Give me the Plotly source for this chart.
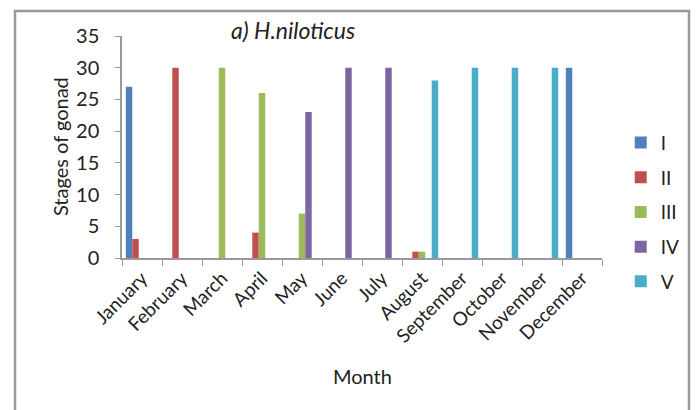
import plotly.graph_objects as go

months = ["January", "February", "March", "April", "May", "June", "July",
          "August", "September", "October", "November", "December"]
stage_I = [27, 0, 0, 0, 0, 0, 0, 0, 0, 0, 0, 30]
stage_II = [3, 30, 0, 4, 0, 0, 0, 1, 0, 0, 0, 0]
stage_III = [0, 0, 30, 26, 7, 0, 0, 1, 0, 0, 0, 0]
stage_IV = [0, 0, 0, 0, 23, 30, 30, 0, 0, 0, 0, 0]
stage_V = [0, 0, 0, 0, 0, 0, 0, 28, 30, 30, 30, 0]
series_names = ["I", "II", "III", "IV", "V"]
colors = ["#4F81BD", "#C0504D", "#9BBB59", "#8064A2", "#4BACC6"]

FONT = "Lato"
fig = go.Figure()
for i, (name, vals) in enumerate(zip(series_names, [stage_I, stage_II, stage_III, stage_IV, stage_V])):
    fig.add_trace(go.Bar(x=months, y=vals, name=name, marker_color=colors[i],
                         marker_line_width=0, legendgroup=name))

fig.update_layout(
    width=697, height=410,
    margin=dict(l=122, r=95, t=36, b=152, autoexpand=False),
    barmode="group", bargap=0.19, bargroupgap=0,
    plot_bgcolor="white", paper_bgcolor="white",
    font=dict(family=FONT, size=18, color="#222"),
    showlegend=True,
    legend=dict(x=1.039, y=0.605, xanchor="left", yanchor="top",
                font=dict(size=19, color="#222"), tracegroupgap=7,
                itemwidth=30),
    xaxis=dict(showline=True, linecolor="#999", linewidth=1.5, ticks="outside",
               tickson="boundaries", ticklen=6, tickcolor="#999", tickangle=-45,
               tickfont=dict(size=19), showgrid=False, automargin=False),
    yaxis=dict(range=[0, 35], dtick=5, showline=True, linecolor="#999", linewidth=1.5,
               ticks="outside", ticklen=5, tickcolor="#999", showgrid=False,
               zeroline=False, tickfont=dict(size=20), ticklabelstandoff=12,
               automargin=False),
)

fig.add_annotation(text="<i>a) H.niloticus</i>", xref="paper", yref="paper", x=0.356, y=1.027,
                   showarrow=False, font=dict(size=23, color="#222"), xanchor="center",
                   yanchor="middle")
fig.add_annotation(text="Stages of gonad", xref="paper", yref="paper", x=-0.129, y=0.5,
                   textangle=-90, showarrow=False, font=dict(size=20, color="#222"),
                   xanchor="center", yanchor="middle")
fig.add_annotation(text="Month", xref="paper", yref="paper", x=0.5, y=-0.53,
                   showarrow=False, font=dict(size=20, color="#222"),
                   xanchor="center", yanchor="middle")
fig.add_shape(type="rect", xref="paper", yref="paper", x0=-0.2229, x1=1.18125,
              y0=-0.8, y1=1.1126, line=dict(color="#999", width=2.5), layer="below")

fig.write_html("out.html", config={"displayModeBar": False},
               post_script="document.body.style.margin='0';")
